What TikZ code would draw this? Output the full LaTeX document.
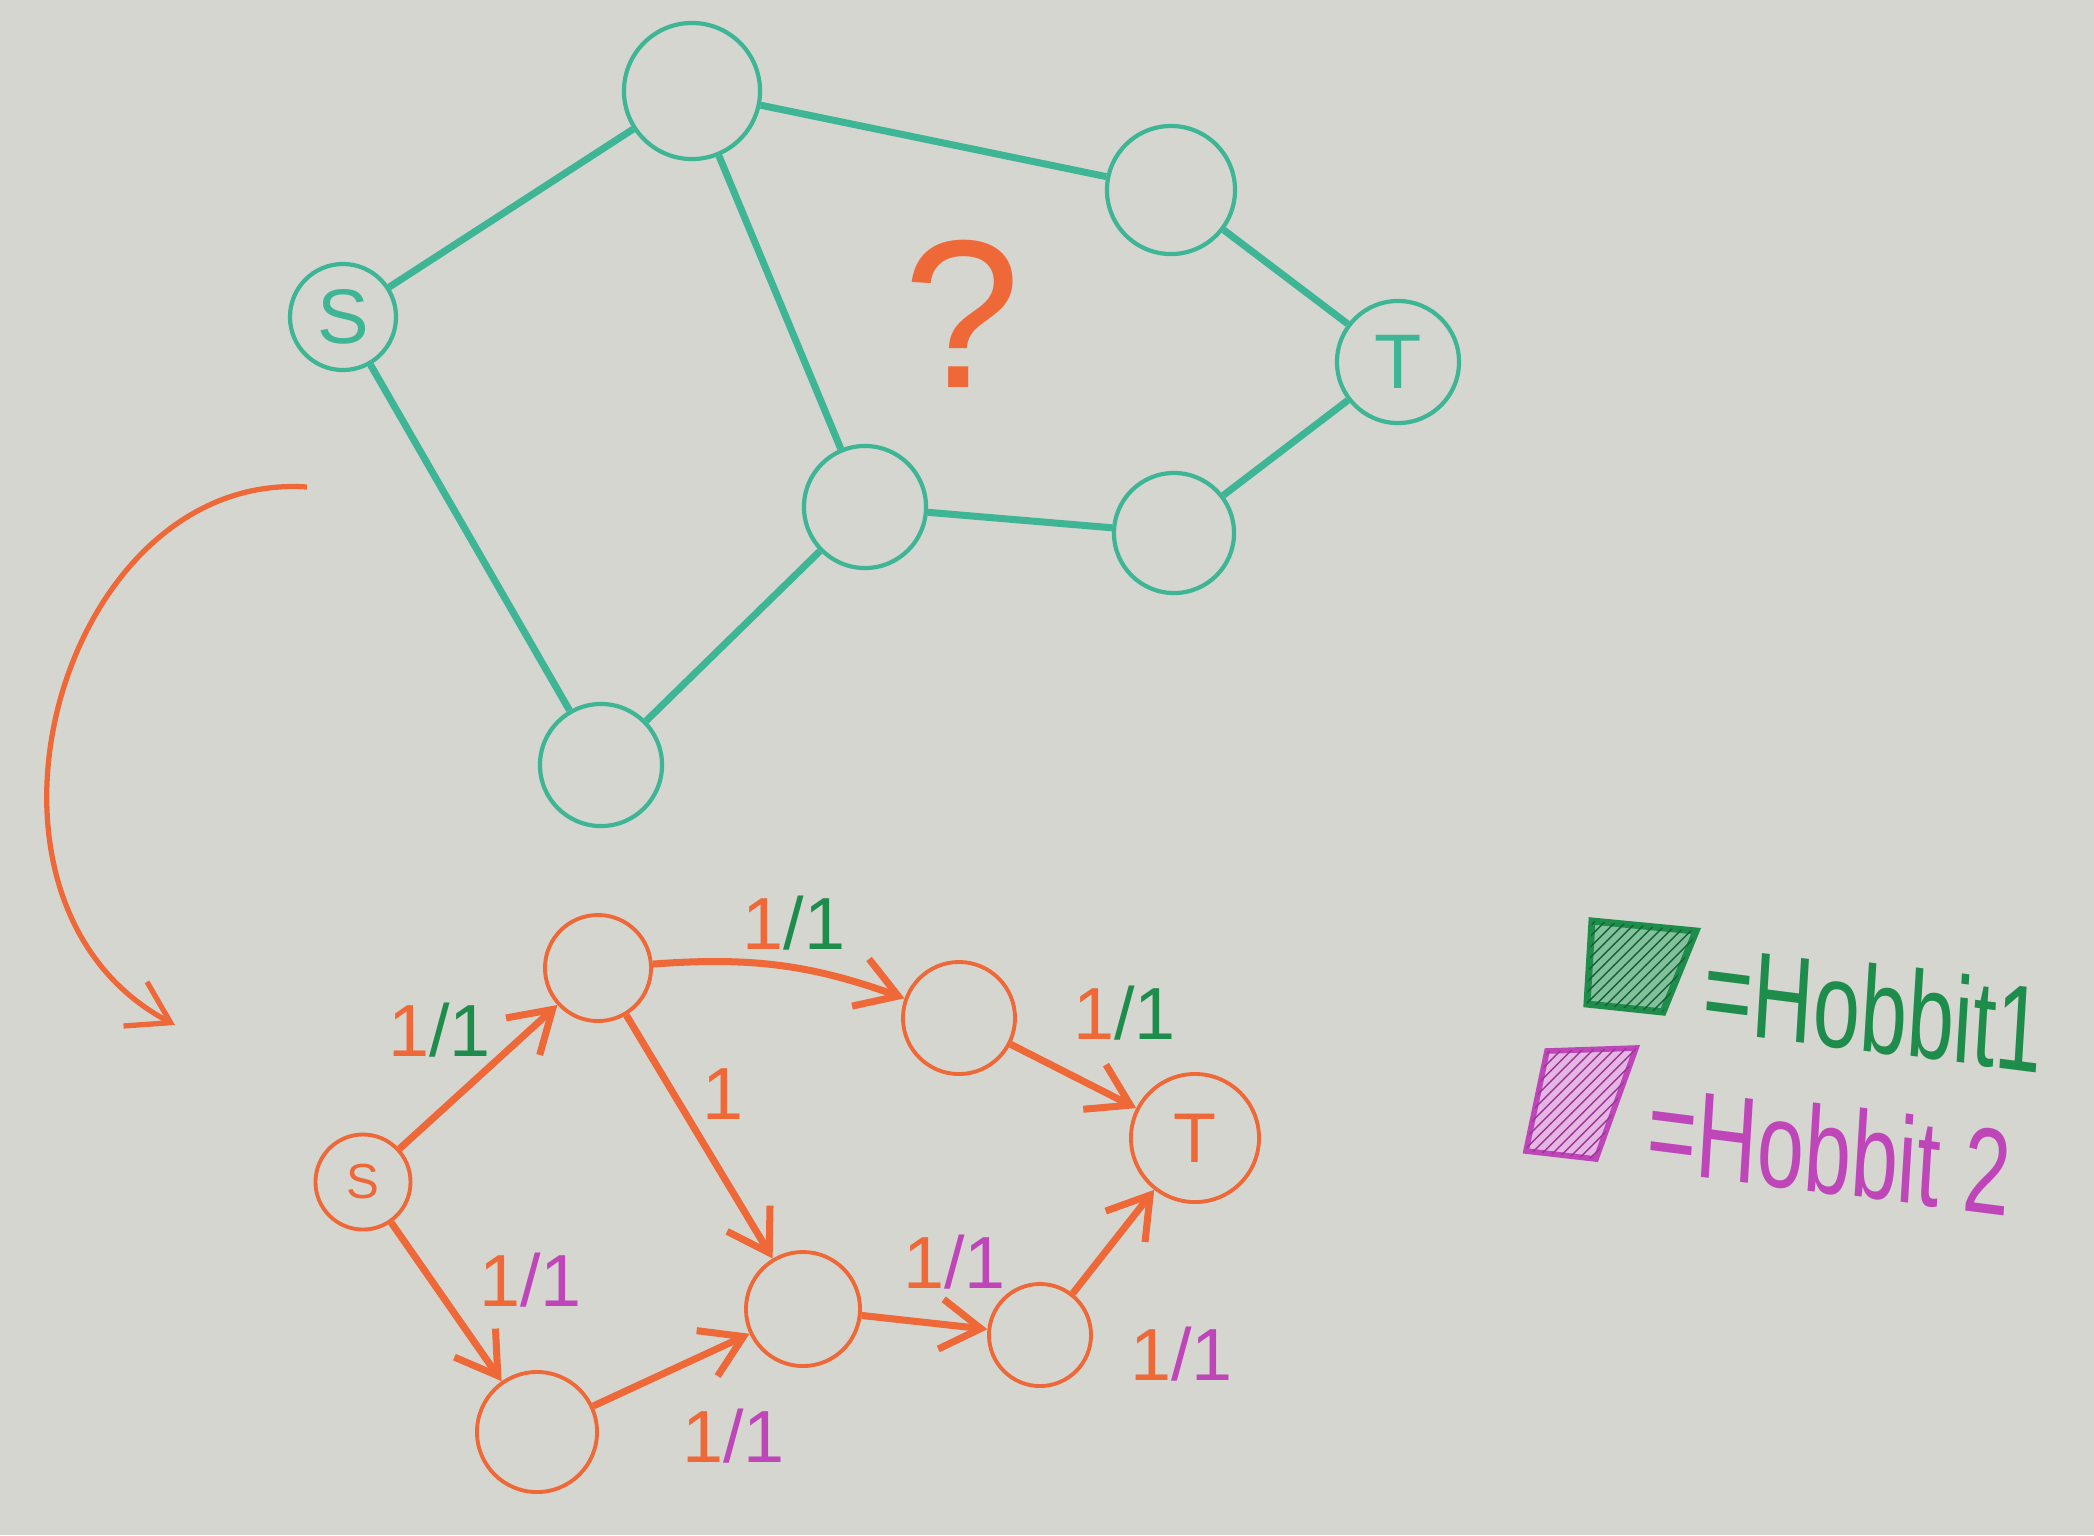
\documentclass[tikz,border=0pt]{standalone}
\usepackage{fontspec}
\setmainfont{Liberation Sans}
\usetikzlibrary{arrows.meta,patterns}

\definecolor{pizarra}{RGB}{214,214,208}
\definecolor{turquesa}{RGB}{62,182,150}
\definecolor{naranja}{RGB}{238,104,56}
\definecolor{verde}{RGB}{30,140,75}
\definecolor{morado}{RGB}{190,70,185}

\newcommand{\flujo}[1]{{\color{naranja}1}{\color{#1}/1}}

\begin{document}
\begin{tikzpicture}[x=0.01cm, y=-0.01cm,
    nodo/.style={circle, draw=turquesa, line width=1.2pt, inner sep=0pt, text=turquesa},
    arista/.style={turquesa, line width=2pt},
    nodof/.style={circle, draw=naranja, line width=1.1pt, inner sep=0pt, text=naranja},
    flecha/.style={naranja, line width=2pt, -{Straight Barb[length=4mm, width=5mm]}},
    etiq/.style={font=\fontsize{21}{24}\selectfont, inner sep=2pt}]
    % Fondo
    \fill[pizarra] (0,0) rectangle (2094,1535);
    \useasboundingbox (0,0) rectangle (2094,1535);

    % Grafo original
    \node[nodo, minimum size=1.06cm, font=\fontsize{22}{24}\selectfont] (s) at (343,317) {S};
    \node[nodo, minimum size=1.36cm] (a) at (692,91) {};
    \node[nodo, minimum size=1.28cm] (b) at (1171,190) {};
    \node[nodo, minimum size=1.22cm, font=\fontsize{22}{24}\selectfont] (t) at (1398,362) {T};
    \node[nodo, minimum size=1.22cm] (c) at (865,507) {};
    \node[nodo, minimum size=1.2cm] (d) at (1174,533) {};
    \node[nodo, minimum size=1.22cm] (e) at (601,765) {};
    \draw[arista] (s) -- (a);
    \draw[arista] (a) -- (b);
    \draw[arista] (b) -- (t);
    \draw[arista] (a) -- (c);
    \draw[arista] (c) -- (d);
    \draw[arista] (d) -- (t);
    \draw[arista] (s) -- (e);
    \draw[arista] (e) -- (c);

    % Pregunta
    \node[text=naranja, font=\fontsize{60}{60}\selectfont] (pregunta) at (962,314) {?};

    % Flecha de transformacion
    \coordinate (inicio) at (307,487);
    \coordinate (fin) at (175,1025);
    \draw[flecha, line width=1.5pt] (inicio) .. controls (60,470) and (-60,900) .. (fin);

    % Red de flujo
    \node[nodof, minimum size=0.95cm, font=\fontsize{14}{16}\selectfont] (fs) at (363,1182) {S};
    \node[nodof, minimum size=1.06cm] (fa) at (598,968) {};
    \node[nodof, minimum size=1.12cm] (fb) at (959,1018) {};
    \node[nodof, minimum size=1.28cm, font=\fontsize{20}{22}\selectfont] (ft) at (1195,1138) {T};
    \node[nodof, minimum size=1.14cm] (fc) at (803,1309) {};
    \node[nodof, minimum size=1.02cm] (fd) at (1040,1335) {};
    \node[nodof, minimum size=1.2cm] (fe) at (537,1432) {};
    \draw[flecha] (fs) -- (fa) node[etiq, midway, xshift=-0.39cm, yshift=0.47cm] {\flujo{verde}};
    \draw[flecha] (fa) to[bend left=12] node[etiq, midway, xshift=0.13cm, yshift=0.43cm] {\flujo{verde}} (fb);
    \draw[flecha] (fb) -- (ft) node[etiq, midway, xshift=0.51cm, yshift=0.63cm] {\flujo{verde}};
    \draw[flecha] (fa) -- (fc) node[etiq, midway, xshift=0.24cm, yshift=0.43cm, text=naranja] {1};
    \draw[flecha] (fs) -- (fe) node[etiq, midway, xshift=0.84cm, yshift=0.22cm] {\flujo{morado}};
    \draw[flecha] (fe) -- (fc) node[etiq, midway, xshift=0.62cm, yshift=-0.66cm] {\flujo{morado}};
    \draw[flecha] (fc) -- (fd) node[etiq, midway, xshift=0.3cm, yshift=0.6cm] {\flujo{morado}};
    \draw[flecha] (fd) -- (ft) node[etiq, midway, xshift=0.68cm, yshift=-1.12cm] {\flujo{morado}};

    % Leyenda
    \filldraw[draw=verde, fill=verde!55, line width=2pt] (1592,921) -- (1696,931) -- (1663,1012) -- (1587,1004) -- cycle;
    \fill[pattern=north east lines, pattern color=verde!70!black] (1592,921) -- (1696,931) -- (1663,1012) -- (1587,1004) -- cycle;
    \node[text=verde, font=\fontsize{24}{28}\selectfont, anchor=west, yscale=1.45, rotate=-5] (hobbit1) at (1692,985) {=Hobbit1};
    \filldraw[draw=morado, fill=morado!40, line width=1.6pt] (1547,1051) -- (1636,1048) -- (1596,1159) -- (1526,1151) -- cycle;
    \fill[pattern=north east lines, pattern color=morado!80!black] (1547,1051) -- (1636,1048) -- (1596,1159) -- (1526,1151) -- cycle;
    \node[text=morado, font=\fontsize{24}{28}\selectfont, anchor=west, yscale=1.45, rotate=-5] (hobbit2) at (1636,1125) {=Hobbit 2};
\end{tikzpicture}
\end{document}
